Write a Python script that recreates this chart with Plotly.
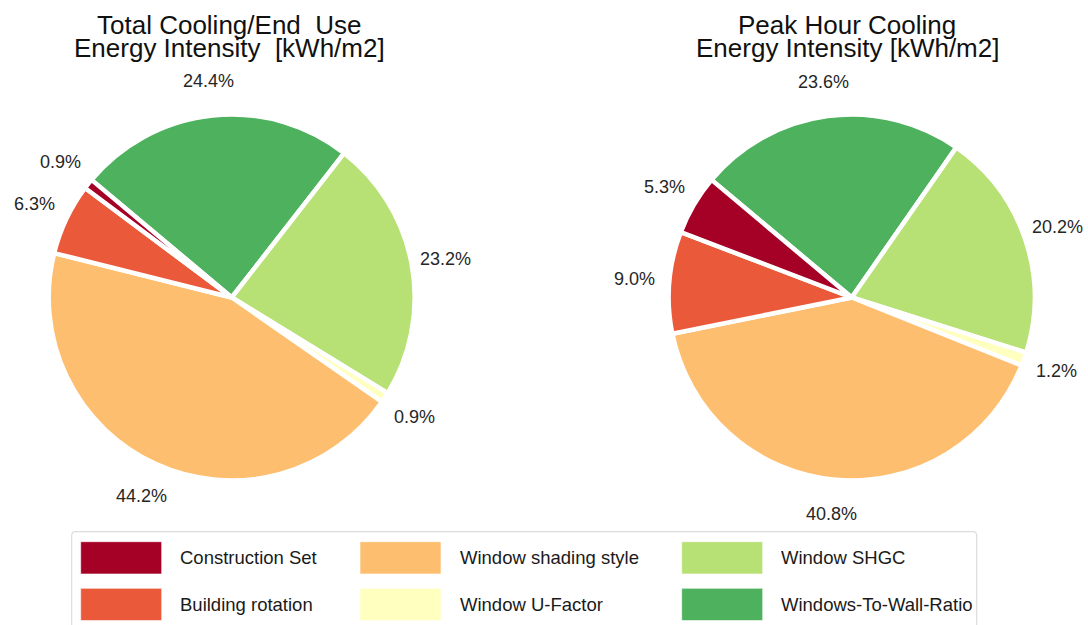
import math
import plotly.graph_objects as go

# ---- data -------------------------------------------------------------
categories = ["Construction Set", "Building rotation", "Window shading style",
              "Window U-Factor", "Window SHGC", "Windows-To-Wall-Ratio"]
total_cooling_pct = [0.9, 6.3, 44.2, 0.9, 23.2, 24.4]
peak_cooling_pct = [5.3, 9.0, 40.8, 1.2, 20.2, 23.6]
colors = ["#a50026", "#ea593a", "#fdbf6f", "#ffffbf", "#b7e075", "#4db15d"]
title_lines = [
    ["Total Cooling/End\u00a0 Use", "Energy Intensity\u00a0 [kWh/m2]"],
    ["Peak Hour Cooling", "Energy Intensity [kWh/m2]"],
]

# ---- layout constants (pixels) ---------------------------------------
W, H = 1088, 625
R = 183                      # pie radius
CENTERS = [(231.7, 297.5), (851.7, 297.5)]
TITLE_X = [229, 847]
START_DEG = 140              # first wedge starts here, counter-clockwise from +x
LABEL_R = 1.19 * R
FONT = "Liberation Sans, Arial, Helvetica, sans-serif"


def fx(px):
    return px / W


def fy(py):
    return 1 - py / H


fig = go.Figure()
annotations = []
shapes = []

for k, vals in enumerate([total_cooling_pct, peak_cooling_pct]):
    cx, cy = CENTERS[k]
    # wedges listed clockwise so the sequence runs counter-clockwise from START_DEG
    fig.add_trace(go.Pie(
        labels=categories[::-1],
        values=vals[::-1],
        marker=dict(colors=colors[::-1], line=dict(color="white", width=4.5)),
        sort=False,
        direction="clockwise",
        rotation=-(START_DEG - 90),
        textinfo="none",
        hovertemplate="%{label}: %{value:.1f}%<extra></extra>",
        showlegend=False,
        domain=dict(x=[fx(cx - R), fx(cx + R)], y=[fy(cy + R), fy(cy - R)]),
    ))

    # percentage labels placed outside each wedge at its mid-angle
    total = sum(vals)
    cum = 0.0
    for v in vals:
        mid = math.radians(START_DEG + 360 * (cum + v / 2) / total)
        cum += v
        annotations.append(dict(
            x=fx(cx + LABEL_R * math.cos(mid)),
            y=fy(cy - LABEL_R * math.sin(mid)),
            xref="paper", yref="paper", showarrow=False,
            xanchor="center", yanchor="middle",
            text=f"{v:.1f}%",
            font=dict(family=FONT, size=18, color="#262626"),
        ))

    # two-line title
    for j, line in enumerate(title_lines[k]):
        annotations.append(dict(
            x=fx(TITLE_X[k]), y=fy(25 + 23 * j),
            xref="paper", yref="paper", showarrow=False,
            xanchor="center", yanchor="middle",
            text=line,
            font=dict(family=FONT, size=26, color="#111111"),
        ))

# ---- legend: frame, colour patches and labels -------------------------
frame_l, frame_r, frame_t, frame_b, rad = 71.7, 976.7, 531.7, 650, 4
shapes.append(dict(
    type="path", xref="paper", yref="paper",
    path=(f"M{fx(frame_l)},{fy(frame_b)} L{fx(frame_l)},{fy(frame_t + rad)} "
          f"Q{fx(frame_l)},{fy(frame_t)} {fx(frame_l + rad)},{fy(frame_t)} "
          f"L{fx(frame_r - rad)},{fy(frame_t)} "
          f"Q{fx(frame_r)},{fy(frame_t)} {fx(frame_r)},{fy(frame_t + rad)} "
          f"L{fx(frame_r)},{fy(frame_b)}"),
    line=dict(color="#dcdcdc", width=1.2),
    fillcolor="rgba(0,0,0,0)",
))

col_left = [80.7, 360.0, 681.7]
row_top = [541.7, 588.3]
patch_w, patch_h, text_gap = 81, 32.3, 97.6
for i, (name, col) in enumerate(zip(categories, colors)):
    c, r = i // 2, i % 2
    x0, y0 = col_left[c], row_top[r]
    shapes.append(dict(
        type="rect", xref="paper", yref="paper",
        x0=fx(x0), x1=fx(x0 + patch_w), y0=fy(y0 + patch_h), y1=fy(y0),
        fillcolor=col, line=dict(color="rgba(255,255,255,0.6)", width=1),
    ))
    annotations.append(dict(
        x=fx(x0 + text_gap), y=fy(y0 + patch_h / 2),
        xref="paper", yref="paper", showarrow=False,
        xanchor="left", yanchor="middle",
        text=name,
        font=dict(family=FONT, size=18.5, color="#1a1a1a"),
    ))

fig.update_layout(
    width=W, height=H, autosize=False,
    margin=dict(l=0, r=0, t=0, b=0),
    paper_bgcolor="white", plot_bgcolor="white",
    annotations=annotations,
    shapes=shapes,
)

fig.write_html("out.html")
